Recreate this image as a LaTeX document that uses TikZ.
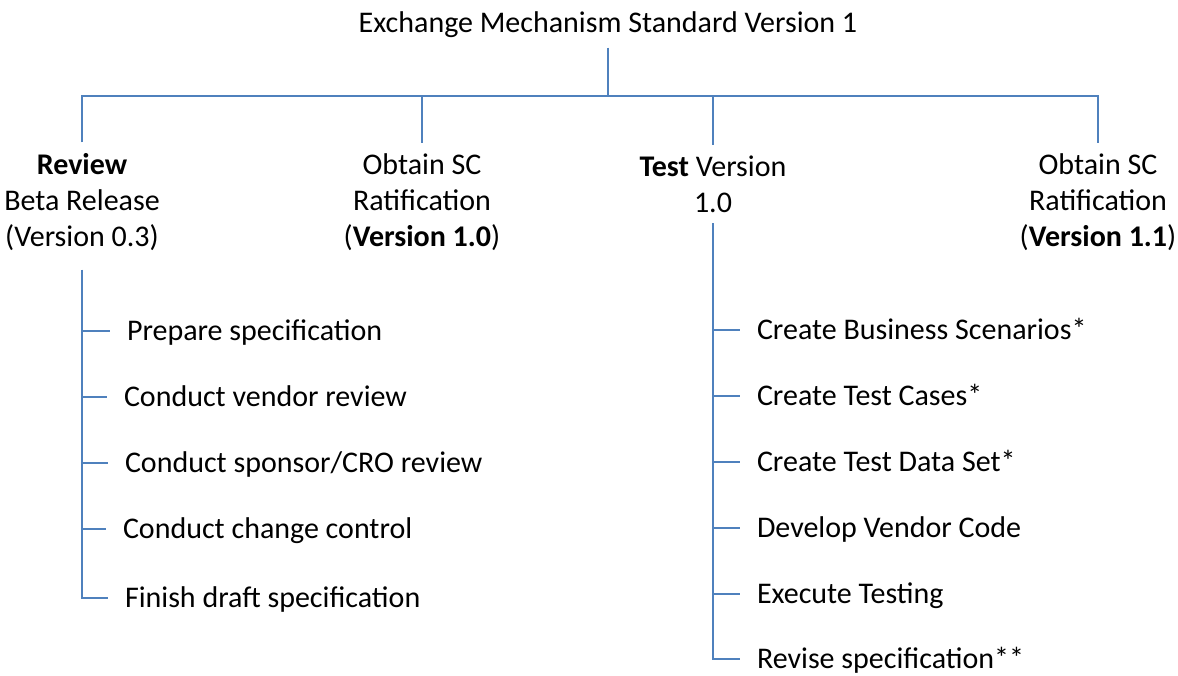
\documentclass[tikz,border=0pt]{standalone}
\usepackage{fontspec}
\setmainfont{Carlito}
\definecolor{wbsblue}{RGB}{79,129,189}

\begin{document}
\begin{tikzpicture}
        [x=1pt, y=-1pt,
        font=\fontsize{30}{36}\selectfont,
        head/.style={align=center, inner sep=0pt, outer ysep=11pt},
        task/.style={anchor=west, inner sep=0pt, outer xsep=17pt,
                     text height=19.3pt, text depth=0pt},
        link/.style={draw=wbsblue, line width=1.2pt}]
        \useasboundingbox (0,0) rectangle (1178,675);
        % top level
        \node (root) at (608,23) [inner sep=0pt, outer ysep=15pt,
              text height=19.3pt, text depth=0pt] {Exchange Mechanism Standard Version 1};
        \coordinate (hub) at (608,96);
        % second level
        \node (review) at (82,202) [head] {\textbf{Review}\\Beta Release\\(Version 0.3)};
        \node (ratify) at (422,202) [head] {Obtain SC\\Ratification\\(\textbf{Version 1.0})};
        \node (test) at (713,184) [head] {\textbf{Test} Version\\1.0};
        \node (ratifyb) at (1098,202) [head] {Obtain SC\\Ratification\\(\textbf{Version 1.1})};
        % review tasks
        \node (p1) at (110,331) [task] {Prepare specification};
        \node (p2) at (107,397) [task] {Conduct vendor review};
        \node (p3) at (108,463) [task] {Conduct sponsor/CRO review};
        \node (p4) at (106,529) [task] {Conduct change control};
        \node (p5) at (108,598) [task] {Finish draft specification};
        % test tasks
        \node (t1) at (740,330) [task] {Create Business Scenarios*};
        \node (t2) at (740,396) [task] {Create Test Cases*};
        \node (t3) at (740,462) [task] {Create Test Data Set*};
        \node (t4) at (740,528) [task] {Develop Vendor Code};
        \node (t5) at (740,594) [task] {Execute Testing};
        \node (t6) at (740,659) [task] {Revise specification**};
        % connectors
        \path[link] (root.south) -- (hub);
        \path[link] (review.north) -- (review.north |- hub) -- (ratifyb.north |- hub) -- (ratifyb.north);
        \path[link] (ratify.north) -- (ratify.north |- hub);
        \path[link] (test.north) -- (test.north |- hub);
        \path[link, shorten <=8pt] (review.south) -- (review.south |- p5) -- (p5.west);
        \path[link] (review.south |- p1) -- (p1.west);
        \path[link] (review.south |- p2) -- (p2.west);
        \path[link] (review.south |- p3) -- (p3.west);
        \path[link] (review.south |- p4) -- (p4.west);
        \path[link] (test.south) -- (test.south |- t6) -- (t6.west);
        \path[link] (test.south |- t1) -- (t1.west);
        \path[link] (test.south |- t2) -- (t2.west);
        \path[link] (test.south |- t3) -- (t3.west);
        \path[link] (test.south |- t4) -- (t4.west);
        \path[link] (test.south |- t5) -- (t5.west);
\end{tikzpicture}
\end{document}
